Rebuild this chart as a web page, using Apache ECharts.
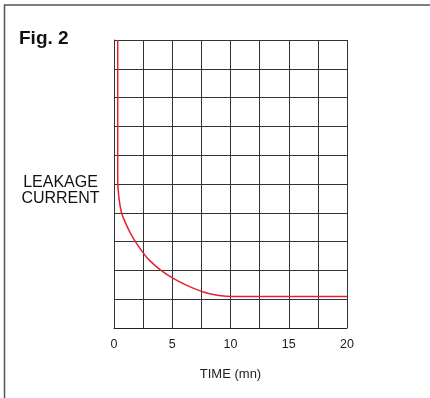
<!DOCTYPE html>
<html>
<head>
<meta charset="utf-8">
<style>
  html, body { margin: 0; padding: 0; background: #fff; }
  #chart { width: 430px; height: 398px; }
</style>
<script src="https://cdn.jsdelivr.net/npm/echarts@6/dist/echarts.min.js"></script>
</head>
<body>
<div id="chart"></div>
<script>
// Leakage current decay over time (arbitrary current units, 0-10 scale)
const timeMin = [0.32, 0.32, 0.34, 0.45, 0.66, 1.0, 1.3, 1.74, 2.52, 3.09, 3.95, 5.09, 6.3, 7.67, 9.0, 10.24, 20];
const leakage = [10, 5.14, 4.9, 4.44, 3.98, 3.64, 3.38, 3.06, 2.6, 2.33, 2.03, 1.72, 1.47, 1.25, 1.13, 1.09, 1.09];
const timeLabels = [0, 5, 10, 15, 20];

const FONT = '"Liberation Sans", Arial, sans-serif';
const chart = echarts.init(document.getElementById('chart'), null, { renderer: 'canvas' });

chart.setOption({
  animation: false,
  grid: { left: 114, top: 40, width: 233, height: 288, containLabel: false },
  xAxis: {
    type: 'value',
    min: 0,
    max: 20,
    interval: 2.5,
    name: 'TIME (mn)',
    nameLocation: 'middle',
    nameGap: 40,
    nameTextStyle: { fontFamily: FONT, fontSize: 13, color: '#222' },
    axisLine: { show: true, lineStyle: { color: '#222', width: 1 } },
    axisTick: { show: false },
    axisLabel: {
      margin: 10,
      fontFamily: FONT,
      fontSize: 12.5,
      color: '#222',
      formatter: v => (timeLabels.indexOf(v) >= 0 ? String(v) : '')
    },
    splitLine: { show: true, lineStyle: { color: '#333', width: 1 } }
  },
  yAxis: {
    type: 'value',
    min: 0,
    max: 10,
    interval: 1,
    axisLine: { show: true, lineStyle: { color: '#333', width: 1 } },
    axisTick: { show: false },
    axisLabel: { show: false },
    splitLine: { show: true, lineStyle: { color: '#333', width: 1 } }
  },
  series: [{
    type: 'line',
    data: timeMin.map((t, i) => [t, leakage[i]]),
    smooth: 0.35,
    showSymbol: false,
    lineStyle: { color: '#e8202a', width: 1.5 },
    z: 5
  }],
  graphic: [
    {
      type: 'polyline',
      shape: { points: [[4.5, 398], [4.5, 5], [430, 5]] },
      style: { stroke: '#555', lineWidth: 1.5, fill: null }
    },
    {
      type: 'text',
      x: 19,
      y: 38.5,
      style: { text: 'Fig. 2', font: 'bold 19px ' + FONT, fill: '#111', verticalAlign: 'middle' }
    },
    {
      type: 'text',
      x: 60.5,
      y: 190.5,
      style: {
        text: 'LEAKAGE\nCURRENT',
        font: '16px ' + FONT,
        fill: '#111',
        align: 'center',
        verticalAlign: 'middle',
        lineHeight: 15.5
      }
    }
  ]
});
</script>
</body>
</html>
